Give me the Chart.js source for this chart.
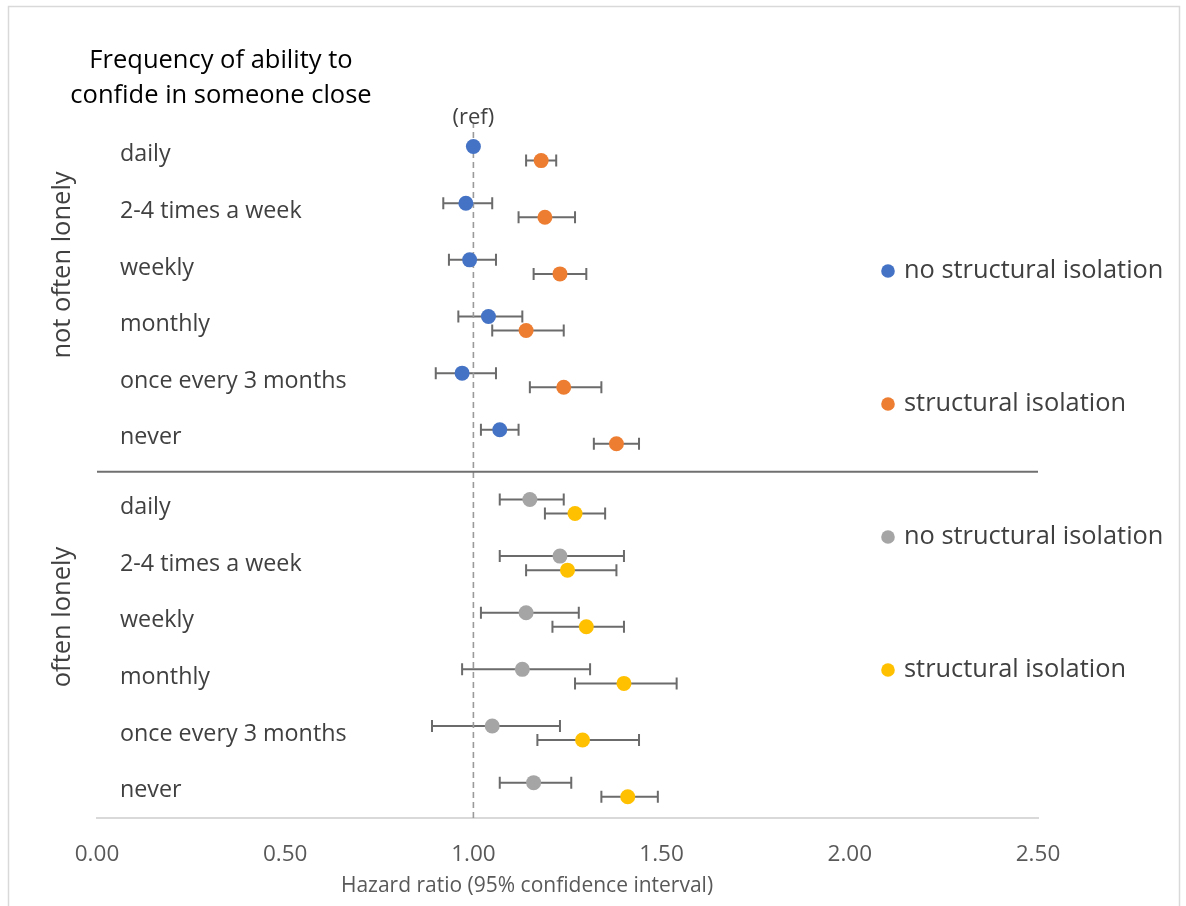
<!DOCTYPE html>
<html>
<head>
<meta charset="utf-8">
<title>Hazard ratios by frequency of confiding</title>
<script src="https://cdn.jsdelivr.net/npm/chart.js@4.4.1/dist/chart.umd.min.js"></script>
<style>
  html, body { margin: 0; padding: 0; background: #fff; }
  #wrap { position: relative; width: 1186px; height: 906px; }
  canvas { display: block; }
</style>
</head>
<body>
<div id="wrap"><canvas id="chart" width="1186" height="906"></canvas></div>
<script>
// ---- data ----
const categories = ['daily', '2-4 times a week', 'weekly', 'monthly', 'once every 3 months', 'never'];
const groupNames = ['not often lonely', 'often lonely'];
const seriesNames = ['no structural isolation', 'structural isolation'];
const xTicks = [0, 0.5, 1, 1.5, 2, 2.5];
const refValue = 1.0;
const xTitle = 'Hazard ratio (95% confidence interval)';

// not often lonely, no structural isolation (first row is the reference)
const notLonelyNoIsoHR = [1.00, 0.98, 0.99, 1.04, 0.97, 1.07];
const notLonelyNoIsoLo = [null, 0.92, 0.935, 0.96, 0.90, 1.02];
const notLonelyNoIsoHi = [null, 1.05, 1.06, 1.13, 1.06, 1.12];

// not often lonely, structural isolation
const notLonelyIsoHR = [1.18, 1.19, 1.23, 1.14, 1.24, 1.38];
const notLonelyIsoLo = [1.14, 1.12, 1.16, 1.05, 1.15, 1.32];
const notLonelyIsoHi = [1.22, 1.27, 1.30, 1.24, 1.34, 1.44];

// often lonely, no structural isolation
const lonelyNoIsoHR = [1.15, 1.23, 1.14, 1.13, 1.05, 1.16];
const lonelyNoIsoLo = [1.07, 1.07, 1.02, 0.97, 0.89, 1.07];
const lonelyNoIsoHi = [1.24, 1.40, 1.28, 1.31, 1.23, 1.26];

// often lonely, structural isolation
const lonelyIsoHR = [1.27, 1.25, 1.30, 1.40, 1.29, 1.41];
const lonelyIsoLo = [1.19, 1.14, 1.21, 1.27, 1.17, 1.34];
const lonelyIsoHi = [1.35, 1.38, 1.40, 1.54, 1.44, 1.49];

// ---- layout helpers (row units on the vertical scale) ----
const Y_MAX = 12.27;
const UPPER_TOP = 11.73;   // centre of first row in the upper block
const LOWER_TOP = 5.5;     // centre of first row in the lower block
const PAIR_OFFSET = 0.124; // half distance between the two markers of a row
const DIVIDER = 6.115;

const FONT = '"Open Sans", "DejaVu Sans", sans-serif';
const COLORS = {
  blue: '#4472C4', orange: '#ED7D31', gray: '#A5A5A5', gold: '#FFC000',
  bar: '#6b6b6b', text: '#404040', tick: '#595959'
};

function rows(hr, lo, hi, top, offset) {
  return hr.map((v, i) => ({ x: v, y: top - i + offset, lo: lo[i], hi: hi[i] }));
}

const pointDefaults = { type: 'scatter', pointRadius: 7.5, pointHoverRadius: 7.5, pointBorderWidth: 0, showLine: false };

const datasets = [
  Object.assign({}, pointDefaults, { label: seriesNames[0], data: rows(notLonelyNoIsoHR, notLonelyNoIsoLo, notLonelyNoIsoHi, UPPER_TOP, PAIR_OFFSET), backgroundColor: COLORS.blue, errorBars: true }),
  Object.assign({}, pointDefaults, { label: seriesNames[1], data: rows(notLonelyIsoHR, notLonelyIsoLo, notLonelyIsoHi, UPPER_TOP, -PAIR_OFFSET), backgroundColor: COLORS.orange, errorBars: true }),
  Object.assign({}, pointDefaults, { label: seriesNames[0], data: rows(lonelyNoIsoHR, lonelyNoIsoLo, lonelyNoIsoHi, LOWER_TOP, PAIR_OFFSET), backgroundColor: COLORS.gray, errorBars: true }),
  Object.assign({}, pointDefaults, { label: seriesNames[1], data: rows(lonelyIsoHR, lonelyIsoLo, lonelyIsoHi, LOWER_TOP, -PAIR_OFFSET), backgroundColor: COLORS.gold, errorBars: true }),
  { type: 'scatter', label: 'divider', data: [{ x: xTicks[0], y: DIVIDER }, { x: xTicks[xTicks.length - 1], y: DIVIDER }],
    showLine: true, borderColor: '#707070', borderWidth: 2, pointRadius: 0, pointHoverRadius: 0 },
  { type: 'scatter', label: 'reference', data: [{ x: refValue, y: 0 }, { x: refValue, y: Y_MAX }],
    showLine: true, borderColor: '#9a9a9a', borderWidth: 1.6, borderDash: [6, 4], pointRadius: 0, pointHoverRadius: 0 }
];

// horizontal confidence-interval whiskers with end caps
const errorBarPlugin = {
  id: 'errorBars',
  beforeDatasetsDraw(chart) {
    const ctx = chart.ctx;
    const xs = chart.scales.x;
    ctx.save();
    ctx.strokeStyle = COLORS.bar;
    ctx.lineWidth = 2;
    chart.data.datasets.forEach((ds, di) => {
      if (!ds.errorBars) return;
      const meta = chart.getDatasetMeta(di);
      ds.data.forEach((d, i) => {
        if (d.lo == null || d.hi == null) return;
        const y = meta.data[i].y;
        const x1 = xs.getPixelForValue(d.lo);
        const x2 = xs.getPixelForValue(d.hi);
        ctx.beginPath();
        ctx.moveTo(x1, y); ctx.lineTo(x2, y);
        ctx.moveTo(x1, y - 6); ctx.lineTo(x1, y + 6);
        ctx.moveTo(x2, y - 6); ctx.lineTo(x2, y + 6);
        ctx.stroke();
      });
    });
    ctx.restore();
  }
};

// frame, headings, row labels, group labels and the side key
const annotationPlugin = {
  id: 'annotations',
  beforeDraw(chart) {
    const ctx = chart.ctx;
    ctx.save();
    ctx.fillStyle = '#fff';
    ctx.fillRect(0, 0, chart.width, chart.height);
    ctx.strokeStyle = '#d9d9d9';
    ctx.lineWidth = 1.5;
    ctx.strokeRect(8.5, 6.5, 1171, 910);
    ctx.restore();
  },
  afterDraw(chart) {
    const ctx = chart.ctx;
    const xs = chart.scales.x, ys = chart.scales.y;
    ctx.save();
    ctx.textBaseline = 'middle';

    // heading
    ctx.fillStyle = '#000';
    ctx.font = '25.5px ' + FONT;
    ctx.textAlign = 'center';
    ctx.fillText('Frequency of ability to', 221, 61);
    ctx.fillText('confide in someone close', 221, 96);

    // axis title
    ctx.fillStyle = COLORS.tick;
    ctx.font = '21px ' + FONT;
    ctx.fillText(xTitle, 527, 886);

    // reference marker label
    ctx.fillStyle = COLORS.text;
    ctx.font = '22px ' + FONT;
    ctx.fillText('(ref)', xs.getPixelForValue(refValue), 118);

    // row labels
    ctx.textAlign = 'left';
    ctx.font = '23.3px ' + FONT;
    [UPPER_TOP, LOWER_TOP].forEach(top => {
      categories.forEach((c, i) => {
        ctx.fillText(c, 120, ys.getPixelForValue(top - i) + 1);
      });
    });

    // group labels (rotated)
    ctx.textAlign = 'center';
    ctx.font = '25.5px ' + FONT;
    [[groupNames[0], 265], [groupNames[1], 617]].forEach(([t, y]) => {
      ctx.save();
      ctx.translate(63, y);
      ctx.rotate(-Math.PI / 2);
      ctx.fillText(t, 0, 0);
      ctx.restore();
    });

    // side key
    const keys = [
      [COLORS.blue, seriesNames[0], 271], [COLORS.orange, seriesNames[1], 404],
      [COLORS.gray, seriesNames[0], 537], [COLORS.gold, seriesNames[1], 670]
    ];
    ctx.textAlign = 'left';
    ctx.font = '25.4px ' + FONT;
    keys.forEach(([col, t, y]) => {
      ctx.fillStyle = col;
      ctx.beginPath();
      ctx.arc(888, y, 6.8, 0, Math.PI * 2);
      ctx.fill();
      ctx.fillStyle = COLORS.text;
      ctx.fillText(t, 904, y);
    });
    ctx.restore();
  }
};

new Chart(document.getElementById('chart'), {
  type: 'scatter',
  data: { datasets },
  plugins: [annotationPlugin, errorBarPlugin],
  options: {
    responsive: false,
    animation: false,
    devicePixelRatio: 1,
    layout: { padding: { left: 97, right: 148, top: 123, bottom: 0 } },
    plugins: { legend: { display: false }, tooltip: { enabled: false } },
    scales: {
      x: {
        type: 'linear', min: xTicks[0], max: xTicks[xTicks.length - 1],
        afterBuildTicks(scale) { scale.ticks = xTicks.map(v => ({ value: v })); },
        afterFit(scale) { scale.height = 88; },
        grid: { display: false, drawTicks: false },
        border: { display: true, color: '#d9d9d9', width: 2 },
        ticks: { color: COLORS.tick, padding: 23, font: { family: FONT, size: 22.5 }, callback: v => Number(v).toFixed(2), maxRotation: 0 },
        title: { display: false }
      },
      y: { type: 'linear', min: 0, max: Y_MAX, display: false }
    }
  }
});
</script>
</body>
</html>
